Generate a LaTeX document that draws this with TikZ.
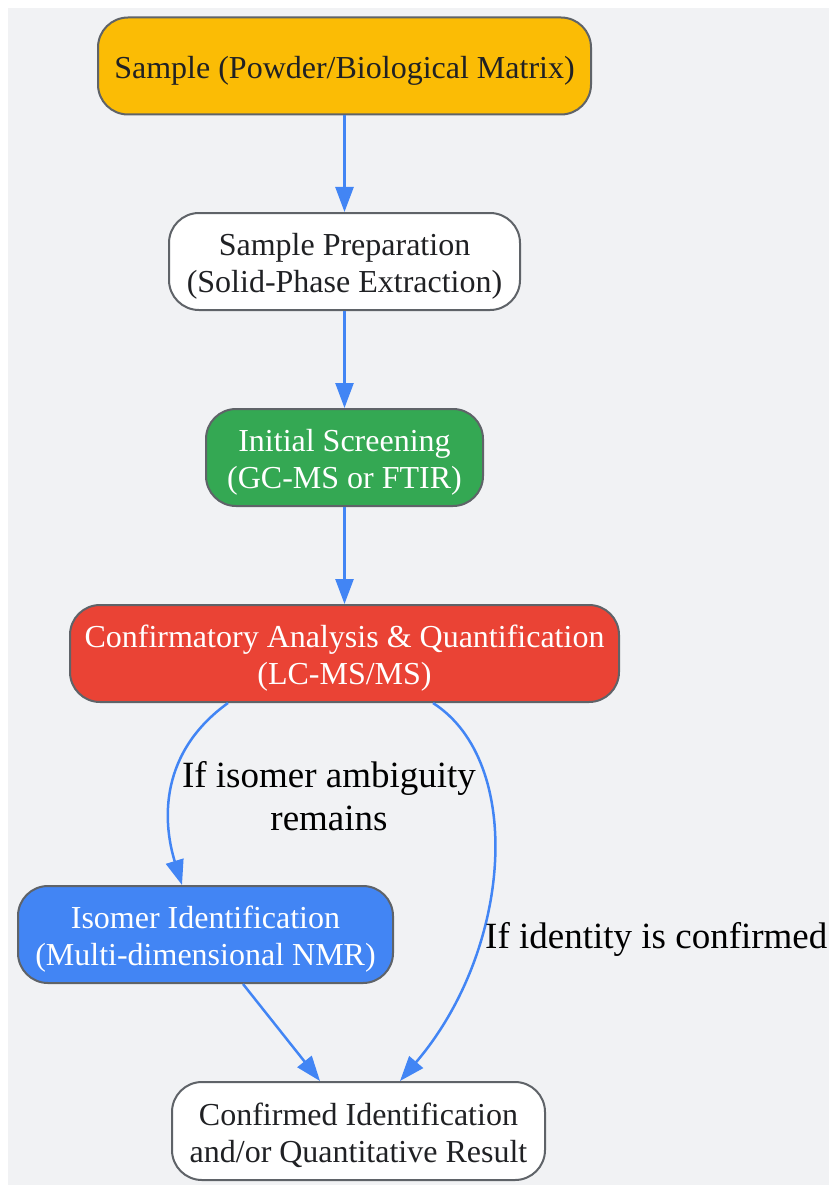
\documentclass[tikz,border=0pt]{standalone}
\usepackage{fontspec}
\setmainfont{Liberation Serif}
\usetikzlibrary{arrows.meta,positioning}

\definecolor{fundo}{HTML}{F1F2F4}
\definecolor{borda}{HTML}{5F6368}
\definecolor{texto}{HTML}{202124}
\definecolor{amarelo}{HTML}{FBBC05}
\definecolor{verde}{HTML}{34A853}
\definecolor{vermelho}{HTML}{EA4335}
\definecolor{azul}{HTML}{4285F4}

\begin{document}
\begin{tikzpicture}[
        x=1pt, y=-1pt,
        font=\fontsize{32}{37}\selectfont,
        caixa/.style={
            draw=borda, line width=2pt, rounded corners=30pt,
            minimum height=97pt, text height=31pt,
            align=center, text=texto
        },
        duas/.style={text height=68pt},
        seta/.style={
            draw=azul, line width=2.5pt,
            -{Triangle[length=25pt, width=18pt]}
        },
        rotulo/.style={align=center, inner sep=0pt, font=\fontsize{37}{43}\selectfont}
    ]

    % Fundo
    \useasboundingbox (0,0) rectangle (829,1185);
    \fill[fundo] (8,8) rectangle (829,1185);

    % Caixas
    \node[caixa, fill=amarelo, minimum width=493pt] (amostra) at (344.5,66)
        {Sample (Powder/Biological Matrix)};
    \node[caixa, duas, fill=white, minimum width=351pt] (preparo) at (344.5,261.5)
        {Sample Preparation\\(Solid-Phase Extraction)};
    \node[caixa, duas, fill=verde, text=white, minimum width=277pt] (triagem) at (344.5,457.5)
        {Initial Screening\\(GC-MS or FTIR)};
    \node[caixa, duas, fill=vermelho, text=white, minimum width=549pt] (confirma) at (344.5,653.5)
        {Confirmatory Analysis \& Quantification\\(LC-MS/MS)};
    \node[caixa, duas, fill=azul, text=white, minimum width=375pt] (isomero) at (205.5,934.5)
        {Isomer Identification\\(Multi-dimensional NMR)};
    \node[caixa, duas, fill=white, minimum width=373pt, minimum height=98pt] (resultado) at (358.5,1131)
        {Confirmed Identification\\and/or Quantitative Result};

    % Setas
    \draw[seta] (amostra) -- (preparo);
    \draw[seta] (preparo) -- (triagem);
    \draw[seta] (triagem) -- (confirma);
    \draw[seta] ([xshift=-116.5pt]confirma.south)
        .. controls (160,752) and (162,820) .. ([xshift=-23.5pt]isomero.north);
    \draw[seta] ([xshift=88.5pt]confirma.south)
        .. controls (525,762) and (512,950) .. ([xshift=41.5pt]resultado.north);
    \draw[seta] ([xshift=37.5pt]isomero.south) -- ([xshift=-38.5pt]resultado.north);

    % Rótulos
    \node[rotulo] (ambiguo) at (329,796) {If isomer ambiguity\\remains};
    \node[rotulo, anchor=west] (identidade) at (485,939) {If identity is confirmed};

\end{tikzpicture}
\end{document}
